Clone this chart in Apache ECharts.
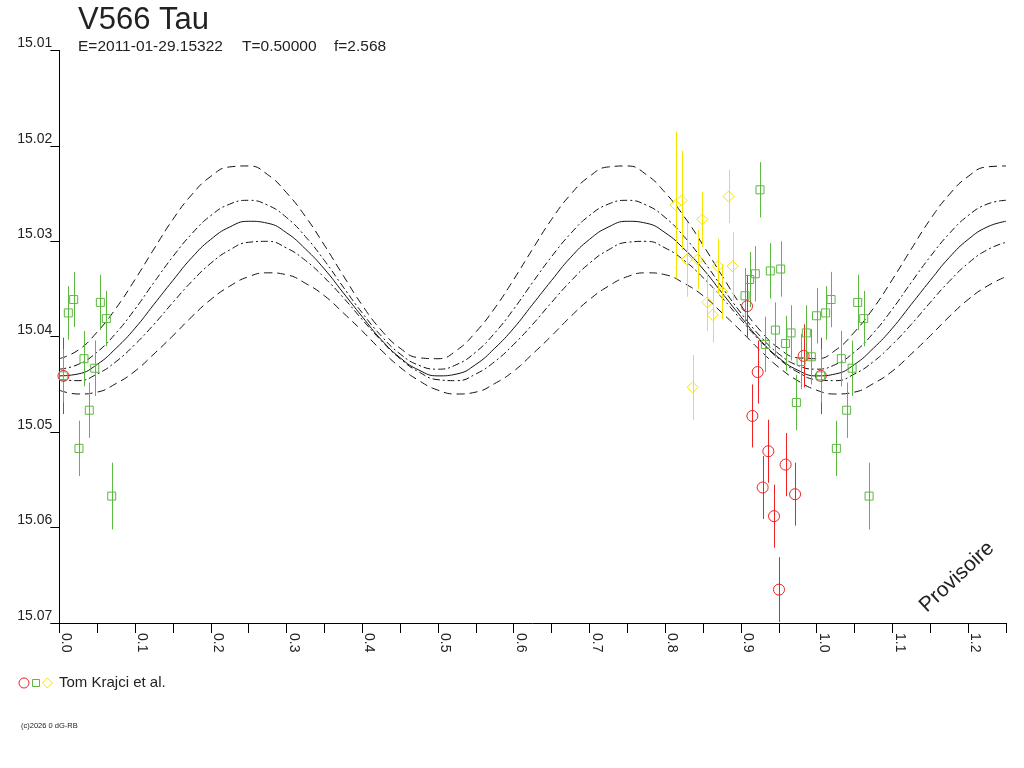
<!DOCTYPE html>
<html>
<head>
<meta charset="utf-8">
<title>V566 Tau</title>
<script src="https://cdn.jsdelivr.net/npm/echarts@6/dist/echarts.min.js"></script>
<style>
	html, body { margin: 0; padding: 0; background: #fff; }
	#chart { width: 1024px; height: 768px; }
</style>
</head>
<body>
<div id="chart"></div>
<script>
// phase grid for the model curves
const phases = [
	0, 0.025, 0.05, 0.075, 0.1, 0.125, 0.15, 0.175, 0.2, 0.225,
	0.25, 0.275, 0.3, 0.325, 0.35, 0.375, 0.4, 0.425, 0.45, 0.475,
	0.5, 0.525, 0.55, 0.575, 0.6, 0.625, 0.65, 0.675, 0.7, 0.725,
	0.75, 0.775, 0.8, 0.825, 0.85, 0.875, 0.9, 0.925, 0.95, 0.975,
	1.0, 1.025, 1.05, 1.075, 1.1, 1.125, 1.15, 1.175, 1.2, 1.225, 1.25
];

// model light curve and its envelopes (magnitudes)
const curveMean = [
	15.0441, 15.0439, 15.0429, 15.0412, 15.0391, 15.0366, 15.0341, 15.0317, 15.0298, 15.0285,
	15.0279, 15.0281, 15.0291, 15.0308, 15.0329, 15.0354, 15.0379, 15.0403, 15.0422, 15.0435,
	15.0441, 15.0439, 15.0429, 15.0412, 15.0391, 15.0366, 15.0341, 15.0317, 15.0298, 15.0285,
	15.0279, 15.0281, 15.0291, 15.0308, 15.0329, 15.0354, 15.0379, 15.0403, 15.0422, 15.0435,
	15.0441, 15.0439, 15.0429, 15.0412, 15.0391, 15.0366, 15.0341, 15.0317, 15.0298, 15.0285, 15.0279
];
const curveInnerUp = [
	15.0434, 15.0429, 15.0416, 15.0396, 15.0371, 15.0343, 15.0316, 15.0292, 15.0273, 15.0261,
	15.0257, 15.0262, 15.0275, 15.0295, 15.0320, 15.0348, 15.0375, 15.0399, 15.0418, 15.0430,
	15.0434, 15.0429, 15.0416, 15.0396, 15.0371, 15.0343, 15.0316, 15.0292, 15.0273, 15.0261,
	15.0257, 15.0262, 15.0275, 15.0295, 15.0320, 15.0348, 15.0375, 15.0399, 15.0418, 15.0430,
	15.0434, 15.0429, 15.0416, 15.0396, 15.0371, 15.0343, 15.0316, 15.0292, 15.0273, 15.0261, 15.0257
];
const curveInnerLow = [
	15.0445, 15.0446, 15.0439, 15.0426, 15.0408, 15.0387, 15.0364, 15.0342, 15.0323, 15.0309,
	15.0301, 15.0300, 15.0307, 15.0320, 15.0338, 15.0359, 15.0382, 15.0404, 15.0423, 15.0437,
	15.0445, 15.0446, 15.0439, 15.0426, 15.0408, 15.0387, 15.0364, 15.0342, 15.0323, 15.0309,
	15.0301, 15.0300, 15.0307, 15.0320, 15.0338, 15.0359, 15.0382, 15.0404, 15.0423, 15.0437,
	15.0445, 15.0446, 15.0439, 15.0426, 15.0408, 15.0387, 15.0364, 15.0342, 15.0323, 15.0309, 15.0301
];
const curveOuterUp = [
	15.0423, 15.0414, 15.0395, 15.0370, 15.0340, 15.0308, 15.0277, 15.0251, 15.0232, 15.0222,
	15.0221, 15.0230, 15.0249, 15.0274, 15.0304, 15.0336, 15.0367, 15.0393, 15.0412, 15.0422,
	15.0423, 15.0414, 15.0395, 15.0370, 15.0340, 15.0308, 15.0277, 15.0251, 15.0232, 15.0222,
	15.0221, 15.0230, 15.0249, 15.0274, 15.0304, 15.0336, 15.0367, 15.0393, 15.0412, 15.0422,
	15.0423, 15.0414, 15.0395, 15.0370, 15.0340, 15.0308, 15.0277, 15.0251, 15.0232, 15.0222, 15.0221
];
const curveOuterLow = [
	15.0456, 15.0460, 15.0458, 15.0449, 15.0436, 15.0418, 15.0399, 15.0379, 15.0361, 15.0347,
	15.0337, 15.0333, 15.0335, 15.0344, 15.0357, 15.0375, 15.0394, 15.0414, 15.0432, 15.0446,
	15.0456, 15.0460, 15.0458, 15.0449, 15.0436, 15.0418, 15.0399, 15.0379, 15.0361, 15.0347,
	15.0337, 15.0333, 15.0335, 15.0344, 15.0357, 15.0375, 15.0394, 15.0414, 15.0432, 15.0446,
	15.0456, 15.0460, 15.0458, 15.0449, 15.0436, 15.0418, 15.0399, 15.0379, 15.0361, 15.0347, 15.0337
];

// observations: [phase, magnitude, error]
const redObs = [
	[0.0055, 15.0441, 0.0040],
	[0.9081, 15.0368, 0.0033],
	[0.9221, 15.0437, 0.0033],
	[0.9151, 15.0483, 0.0033],
	[0.9362, 15.0520, 0.0033],
	[0.9590, 15.0534, 0.0033],
	[0.9287, 15.0558, 0.0033],
	[0.9715, 15.0565, 0.0033],
	[0.9437, 15.0588, 0.0033],
	[0.9503, 15.0665, 0.0034],
	[0.9828, 15.0420, 0.0033]
];
const greenObs = [
	[0.0119, 15.0375, 0.0028],
	[0.0190, 15.0361, 0.0029],
	[0.0053, 15.0441, 0.0028],
	[0.0326, 15.0423, 0.0029],
	[0.0468, 15.0433, 0.0029],
	[0.0542, 15.0364, 0.0029],
	[0.0621, 15.0381, 0.0029],
	[0.0396, 15.0477, 0.0029],
	[0.0260, 15.0517, 0.0029],
	[0.0692, 15.0567, 0.0035],
	[0.9252, 15.0246, 0.0029],
	[0.9190, 15.0334, 0.0029],
	[0.9115, 15.0340, 0.0029],
	[0.9388, 15.0331, 0.0029],
	[0.9525, 15.0329, 0.0029],
	[0.9054, 15.0357, 0.0029],
	[0.9455, 15.0393, 0.0029],
	[0.9322, 15.0408, 0.0029],
	[0.9662, 15.0396, 0.0029],
	[0.9590, 15.0407, 0.0029],
	[0.9864, 15.0396, 0.0029],
	[0.9998, 15.0378, 0.0029],
	[0.9930, 15.0421, 0.0029],
	[0.9794, 15.0426, 0.0029],
	[0.9732, 15.0469, 0.0029]
];
const yellowObs = [
	[0.8137, 15.0262, 0.0077],
	[0.8217, 15.0257, 0.0052],
	[0.8490, 15.0277, 0.0029],
	[0.8838, 15.0253, 0.0028],
	[0.8288, 15.0319, 0.0039],
	[0.8428, 15.0319, 0.0031],
	[0.8697, 15.0326, 0.0029],
	[0.8890, 15.0326, 0.0036],
	[0.8556, 15.0364, 0.0030],
	[0.8626, 15.0377, 0.0029],
	[0.8754, 15.0353, 0.0029],
	[0.8362, 15.0453, 0.0034]
];

const RED = '#ee2222',
	GREEN = '#5cb840',
	YELLOW = '#f5e400',
	INK = '#222',
	FONT = '"Liberation Sans", Arial, sans-serif';

// phases below 0.25 are shown a second time, one cycle later
const wrap = obs => obs.concat(obs.filter(o => o[0] < 0.25).map(o => [o[0] + 1, o[1], o[2]]));

const curve = (values, type) => ({
	type: 'line',
	data: phases.map((p, i) => [p, values[i]]),
	smooth: true,
	symbol: 'none',
	silent: true,
	z: 1,
	lineStyle: { color: '#111', width: 1, type }
});

const errorBars = (obs, color) => ({
	type: 'custom',
	clip: true,
	silent: true,
	z: 2,
	data: wrap(obs),
	encode: { x: 0, y: 1 },
	renderItem: (params, api) => {
		const x = api.value(0), m = api.value(1), e = api.value(2),
			a = api.coord([x, m - e]),
			b = api.coord([x, m + e]),
			px = Math.round(a[0]) + 0.5;
		return {
			type: 'line',
			shape: { x1: px, y1: a[1], x2: px, y2: b[1] },
			style: { stroke: color, lineWidth: 1 }
		};
	}
});

const marks = (obs, color, symbol, size) => ({
	type: 'scatter',
	data: wrap(obs).map(o => [o[0], o[1]]),
	symbol,
	symbolSize: size,
	silent: true,
	z: 2,
	itemStyle: { color: 'rgba(0,0,0,0)', borderColor: color, borderWidth: 1, opacity: 1 }
});

const chart = echarts.init(document.getElementById('chart'), null, { renderer: 'canvas' });

chart.setOption({
	animation: false,
	backgroundColor: '#fff',
	grid: { left: 59.3, right: 18, top: 50.5, bottom: 145, containLabel: false },
	xAxis: {
		type: 'value',
		min: 0,
		max: 1.25,
		interval: 0.05,
		axisLine: { onZero: false, lineStyle: { color: '#000', width: 1 } },
		axisTick: { length: 10, lineStyle: { color: '#000' } },
		splitLine: { show: false },
		axisLabel: {
			rotate: -90,
			align: 'left',
			verticalAlign: 'bottom',
			margin: 10,
			fontSize: 14,
			fontFamily: FONT,
			color: INK,
			formatter: v => Math.round(v * 100) % 10 === 0 ? v.toFixed(1) : ''
		}
	},
	yAxis: {
		type: 'value',
		min: 15.01,
		max: 15.07,
		interval: 0.01,
		inverse: true,
		axisLine: { show: true, lineStyle: { color: '#000', width: 1 } },
		axisTick: { show: true, length: 9, lineStyle: { color: '#000' } },
		splitLine: { show: false },
		axisLabel: {
			margin: 7,
			verticalAlign: 'bottom',
			fontSize: 14,
			fontFamily: FONT,
			color: INK,
			formatter: v => v.toFixed(2)
		}
	},
	series: [
		curve(curveOuterUp, [8, 5]),
		curve(curveInnerUp, [7, 3, 2, 3]),
		curve(curveMean, 'solid'),
		curve(curveInnerLow, [7, 3, 2, 3]),
		curve(curveOuterLow, [8, 5]),
		errorBars(redObs, RED),
		marks(redObs, RED, 'circle', 11),
		errorBars(greenObs, GREEN),
		marks(greenObs, GREEN, 'rect', 8),
		errorBars(yellowObs, YELLOW),
		marks(yellowObs, YELLOW, 'diamond', 11)
	],
	graphic: [
		{ type: 'text', x: 78, y: 20, style: { text: 'V566 Tau', font: '31px ' + FONT, fill: INK, verticalAlign: 'middle' } },
		{ type: 'text', x: 78, y: 47, style: { text: 'E=2011-01-29.15322', font: '15.5px ' + FONT, fill: INK, verticalAlign: 'middle' } },
		{ type: 'text', x: 242, y: 47, style: { text: 'T=0.50000', font: '15.5px ' + FONT, fill: INK, verticalAlign: 'middle' } },
		{ type: 'text', x: 334, y: 47, style: { text: 'f=2.568', font: '15.5px ' + FONT, fill: INK, verticalAlign: 'middle' } },
		{ type: 'text', x: 957, y: 577, rotation: 0.75, style: { text: 'Provisoire', font: '21px ' + FONT, fill: INK, align: 'center', verticalAlign: 'middle' } },
		// legend: one icon per symbol, one observer name
		{ type: 'circle', shape: { cx: 24, cy: 683, r: 5 }, style: { fill: 'none', stroke: RED, lineWidth: 1 } },
		{ type: 'rect', shape: { x: 32.5, y: 679.5, width: 7, height: 7 }, style: { fill: 'none', stroke: GREEN, lineWidth: 1 } },
		{ type: 'polygon', shape: { points: [[47.3, 678], [52.3, 683], [47.3, 688], [42.3, 683]] }, style: { fill: 'none', stroke: YELLOW, lineWidth: 1 } },
		{ type: 'text', x: 59, y: 683, style: { text: 'Tom Krajci et al.', font: '15px ' + FONT, fill: INK, verticalAlign: 'middle' } },
		{ type: 'text', x: 21, y: 725.5, style: { text: '(c)2026 0 dG-RB', font: '7.5px ' + FONT, fill: INK, verticalAlign: 'middle' } }
	]
});
</script>
</body>
</html>
